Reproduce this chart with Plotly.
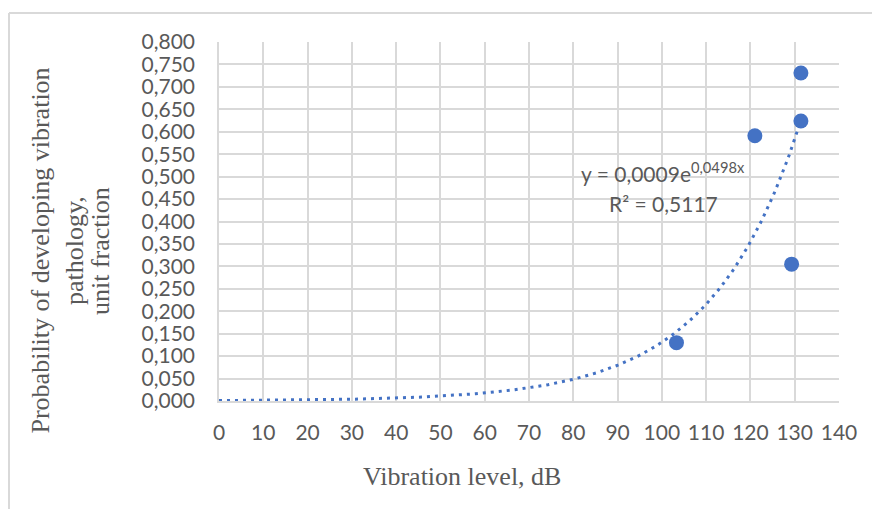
import numpy as np
import plotly.graph_objects as go

# Data
vibration_db = [103.3, 121.0, 131.4, 131.4, 129.3]
probability = [0.130, 0.591, 0.731, 0.624, 0.305]

# Exponential trendline coefficients shown on the chart
trend_a = 0.0009
trend_b = 0.0498
trend_x_max = 131.4

x_ticks = list(range(0, 141, 10))
y_ticks = [round(i * 0.05, 3) for i in range(17)]

y_title_lines = ["Probability of developing vibration", "pathology,", "unit fraction"]
x_title = "Vibration level, dB"

W, H = 872, 509
L, R, T, B = 219, 33, 42, 108
pw, ph = W - L - R, H - T - B

def px2paper_x(px):
    return (px - L) / pw

def px2paper_y(py):
    return (H - B - py) / ph

tx = np.linspace(0, trend_x_max, 300)
ty = trend_a * np.exp(trend_b * tx)

blue = "#4472C4"
grey_txt = "#595959"
grid = "#d9d9d9"

fig = go.Figure()
fig.add_trace(go.Scatter(x=tx, y=ty, mode="lines",
                         line=dict(color=blue, width=3, dash="3px,5px"),
                         hoverinfo="skip", showlegend=False))
fig.add_trace(go.Scatter(x=vibration_db, y=probability, mode="markers",
                         marker=dict(color=blue, size=15), showlegend=False))

fig.update_layout(
    width=W, height=H,
    margin=dict(l=L, r=R, t=T, b=B, pad=0),
    paper_bgcolor="white", plot_bgcolor="white",
    separators=", ",
    font=dict(family="Lato", color=grey_txt, size=21),
    xaxis=dict(range=[0, 140], tickvals=x_ticks, ticktext=[str(v) for v in x_ticks],
               showgrid=True, gridcolor=grid, gridwidth=1.5,
               showline=True, linecolor=grid, linewidth=1.5, mirror=False,
               zeroline=False, ticks="", ticklabelstandoff=12,
               tickfont=dict(family="Lato", size=21, color=grey_txt)),
    yaxis=dict(range=[0, 0.8], tickvals=y_ticks,
               ticktext=[f"{v:.3f}".replace(".", ",") for v in y_ticks],
               showgrid=True, gridcolor=grid, gridwidth=1.5,
               showline=True, linecolor=grid, linewidth=1.5,
               zeroline=False, ticks="", ticklabelstandoff=18,
               tickfont=dict(family="Lato", size=21, color=grey_txt)),
)

serif = "Liberation Serif"
# axis titles
fig.add_annotation(xref="paper", yref="paper", x=px2paper_x(462), y=px2paper_y(477),
                   text=x_title, showarrow=False,
                   font=dict(family=serif, size=26, color=grey_txt),
                   xanchor="center", yanchor="middle")
for line, xc in zip(y_title_lines, [39.5, 74, 100]):
    fig.add_annotation(xref="paper", yref="paper", x=px2paper_x(xc), y=px2paper_y(251),
                       text=line, textangle=-90, showarrow=False,
                       font=dict(family=serif, size=26, color=grey_txt),
                       xanchor="center", yanchor="middle")
# trendline labels
fig.add_annotation(xref="paper", yref="paper", x=px2paper_x(663), y=px2paper_y(172),
                   text="y = 0,0009e<sup>0,0498x</sup>", showarrow=False,
                   font=dict(family="Lato", size=21, color=grey_txt),
                   xanchor="center", yanchor="middle")
fig.add_annotation(xref="paper", yref="paper", x=px2paper_x(663), y=px2paper_y(203),
                   text="R² = 0,5117", showarrow=False,
                   font=dict(family="Lato", size=21, color=grey_txt),
                   xanchor="center", yanchor="middle")

# chart frame (top and left edges visible)
fig.add_shape(type="line", xref="paper", yref="paper",
              x0=px2paper_x(9), x1=px2paper_x(872), y0=px2paper_y(13), y1=px2paper_y(13),
              line=dict(color=grid, width=2))
fig.add_shape(type="line", xref="paper", yref="paper",
              x0=px2paper_x(9), x1=px2paper_x(9), y0=px2paper_y(13), y1=px2paper_y(509),
              line=dict(color=grid, width=2))

fig.write_html("out.html")
